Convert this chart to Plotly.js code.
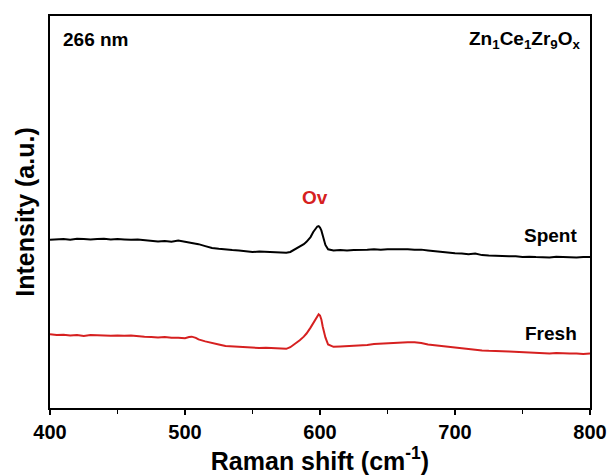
<!DOCTYPE html>
<html>
<head>
<meta charset="utf-8">
<script src="https://cdn.plot.ly/plotly-3.0.1.min.js"></script>
<style>html,body{margin:0;padding:0;background:#fff;}#chart{width:613px;height:475px;}</style>
</head>
<body>
<div id="chart"></div>
<script>
// Raman shift (cm-1) and offset intensities (a.u.)
const spentX = [400,405,410,415,420,425,430,435,440,445,450,455,460,465,470,475,480,485,490,495,500,505,510,515,520,525,530,535,540,545,550,555,560,565,570,575,578,580,583,585,588,590,593,595,597,598,599,600,601,602,604,606,610,615,620,625,630,635,640,645,650,655,660,665,670,675,680,685,690,695,700,705,710,715,720,725,730,735,740,745,750,755,760,765,770,775,780,785,790,795,800];
const spentY = [42.9,43.0,43.1,42.9,43.2,43.1,43.0,43.1,43.2,43.0,43.1,43.0,42.9,43.0,42.8,42.7,42.5,42.6,42.4,42.7,42.4,42.2,41.8,41.3,40.8,40.6,40.4,40.3,40.2,40.0,39.8,39.9,39.8,39.7,39.7,39.6,39.8,40.2,40.7,41.2,41.8,42.4,43.6,44.9,45.8,46.3,46.4,46.0,45.3,43.8,41.6,40.5,40.2,40.3,40.2,40.3,40.3,40.4,40.5,40.4,40.5,40.5,40.6,40.5,40.4,40.4,40.2,40.0,39.9,39.7,39.5,39.4,39.2,39.4,39.0,38.9,38.9,38.8,38.7,38.7,38.5,38.6,38.5,38.5,38.4,38.6,38.5,38.5,38.4,38.5,38.5];
const freshX = [400,405,410,415,420,425,430,435,440,445,450,455,460,465,470,475,480,485,490,495,500,503,505,508,510,515,520,525,530,535,540,545,550,555,560,565,570,575,578,580,583,585,588,590,593,595,597,598,599,600,601,602,604,606,610,615,620,625,630,635,640,645,650,655,660,665,670,675,680,685,690,695,700,705,710,715,720,725,730,735,740,745,750,755,760,765,770,775,780,785,790,795,800];
const freshY = [18.8,18.6,18.7,18.5,18.6,18.4,18.6,18.5,18.5,18.4,18.5,18.4,18.5,18.3,18.2,18.1,18.0,18.1,17.9,17.9,17.8,18.1,18.2,17.9,17.5,17.0,16.5,16.2,15.8,15.7,15.6,15.4,15.4,15.3,15.4,15.3,15.3,15.1,15.5,16.0,16.7,17.3,18.2,19.0,20.5,21.6,22.8,23.5,23.9,23.6,22.6,20.8,18.0,16.2,15.6,15.7,15.8,15.8,16.0,16.1,16.3,16.4,16.6,16.7,16.8,16.8,16.8,16.6,16.2,16.0,15.9,15.6,15.4,15.3,15.1,14.9,14.7,14.6,14.6,14.5,14.4,14.3,14.2,14.2,14.1,14.0,13.9,14.0,13.9,13.9,13.9,13.8,13.9];

const xTicks = [400,500,600,700,800];
const xTickLabels = ['400','500','600','700','800'];
const seriesNames = ['Spent','Fresh'];
const seriesColors = ['#000000','#d62020'];
const labelY = [43.9,18.9];

const F = 'Liberation Sans, Arial, sans-serif';

const traces = [
  {x: spentX, y: spentY, type:'scatter', mode:'lines', name: seriesNames[0], line:{color:seriesColors[0], width:2}},
  {x: freshX, y: freshY, type:'scatter', mode:'lines', name: seriesNames[1], line:{color:seriesColors[1], width:2}}
];

const annotations = [
  {x:0.02, y:0.939, xref:'paper', yref:'paper', xanchor:'left', yanchor:'middle', showarrow:false,
   text:'<b>266 nm</b>', font:{family:F, size:19, color:'#000'}},
  {x:0.987, y:0.939, xref:'paper', yref:'paper', xanchor:'right', yanchor:'middle', showarrow:false,
   text:'<b>Zn<sub>1</sub>Ce<sub>1</sub>Zr<sub>9</sub>O<sub>x</sub></b>', font:{family:F, size:19, color:'#000'}},
  {x:596, y:53.6, xref:'x', yref:'y', xanchor:'center', yanchor:'middle', showarrow:false,
   text:'<b>Ov</b>', font:{family:F, size:19, color:'#d62020'}},
  {x:0.98, y:labelY[0], xref:'paper', yref:'y', xanchor:'right', yanchor:'middle', showarrow:false,
   text:'<b>'+seriesNames[0]+'</b>', font:{family:F, size:19, color:'#000'}},
  {x:0.98, y:labelY[1], xref:'paper', yref:'y', xanchor:'right', yanchor:'middle', showarrow:false,
   text:'<b>'+seriesNames[1]+'</b>', font:{family:F, size:19, color:'#000'}}
];

const layout = {
  width:613, height:475,
  margin:{l:50, r:23, t:16, b:67},
  paper_bgcolor:'#fff', plot_bgcolor:'#fff',
  showlegend:false,
  xaxis:{
    range:[400,800], tickmode:'array', tickvals:xTicks, ticktext:xTickLabels.map(t=>'<b>'+t+'</b>'),
    ticks:'outside', ticklen:5, tickwidth:2, tickcolor:'#000',
    minor:{dtick:50, ticks:'outside', ticklen:4, tickwidth:1.5, tickcolor:'#000', showgrid:false},
    showline:true, linecolor:'#000', linewidth:2, mirror:true, showgrid:false, zeroline:false,
    tickfont:{family:F, size:20, color:'#000'},
    title:{text:'<b>Raman shift (cm<sup>-1</sup>)</b>', font:{family:F, size:25, color:'#000'}, standoff:3}
  },
  yaxis:{
    range:[0,100], showticklabels:false, ticks:'',
    showline:true, linecolor:'#000', linewidth:2, mirror:true, showgrid:false, zeroline:false,
    title:{text:'<b>Intensity (a.u.)</b>', font:{family:F, size:25, color:'#000'}, standoff:6}
  },
  annotations: annotations
};

Plotly.newPlot('chart', traces, layout, {displayModeBar:false, staticPlot:true});
</script>
</body>
</html>
